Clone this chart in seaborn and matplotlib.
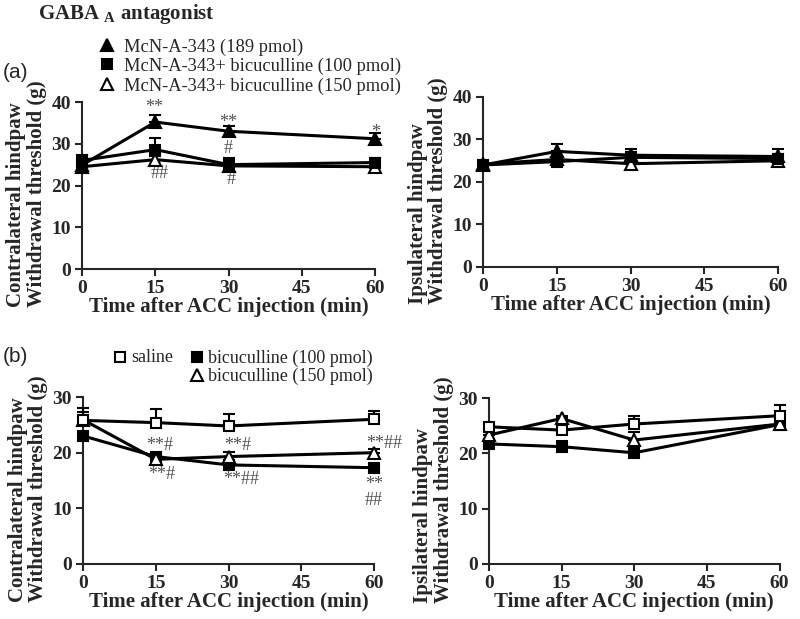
import numpy as np
import matplotlib
matplotlib.use("Agg")
import matplotlib.pyplot as plt
from matplotlib.lines import Line2D
import seaborn as sns

# time points (min after ACC injection)
times = [0, 15, 30, 60]

# (a) McN-A-343 +/- bicuculline, contralateral paw
a_contra_mcn = [24.9, 35.2, 33.0, 31.2]
a_contra_mcn_err = [1.0, 1.8, 1.2, 1.4]
a_contra_bic100 = [26.0, 28.6, 25.0, 25.5]
a_contra_bic100_err = [0.8, 2.8, 1.7, 1.0]
a_contra_bic150 = [24.5, 26.2, 24.7, 24.5]
a_contra_bic150_err = [0.5, 0.8, 0.6, 0.6]

# (a) ipsilateral paw
a_ipsi_mcn = [24.0, 27.2, 26.3, 26.0]
a_ipsi_mcn_err = [0.5, 1.8, 1.5, 1.8]
a_ipsi_bic100 = [24.0, 24.8, 25.8, 25.5]
a_ipsi_bic100_err = [0.4, 0.5, 1.2, 1.0]
a_ipsi_bic150 = [24.2, 25.3, 24.3, 25.0]
a_ipsi_bic150_err = [0.4, 0.6, 0.6, 0.6]

# (b) saline / bicuculline alone, contralateral paw
b_contra_saline = [25.8, 25.4, 24.8, 26.0]
b_contra_saline_err = [1.5, 2.5, 2.2, 1.5]
b_contra_bic100 = [23.0, 19.3, 17.8, 17.3]
b_contra_bic100_err = [0.8, 0.5, 0.5, 0.5]
b_contra_bic150 = [25.9, 18.8, 19.3, 20.0]
b_contra_bic150_err = [2.2, 0.5, 0.8, 0.6]

# (b) ipsilateral paw
b_ipsi_saline = [24.8, 24.2, 25.3, 26.8]
b_ipsi_saline_err = [0.5, 0.5, 1.5, 2.0]
b_ipsi_bic100 = [21.7, 21.2, 20.1, 25.2]
b_ipsi_bic100_err = [0.8, 1.0, 0.5, 0.5]
b_ipsi_bic150 = [23.3, 26.3, 22.4, 25.3]
b_ipsi_bic150_err = [0.6, 0.4, 1.5, 0.5]

legend_a = ["McN-A-343 (189 pmol)", "McN-A-343+ bicuculline (100 pmol)",
            "McN-A-343+ bicuculline (150 pmol)"]
legend_b = ["saline", "bicuculline (100 pmol)", "bicuculline (150 pmol)"]

sns.set_style("ticks")
plt.rcParams['font.family'] = ['Liberation Serif', 'DejaVu Serif']
plt.rcParams['font.weight'] = 'bold'
plt.rcParams['mathtext.fontset'] = 'custom'
plt.rcParams['mathtext.rm'] = 'Liberation Serif'
plt.rcParams['mathtext.bf'] = 'Liberation Serif:bold'

# marker styles
st_tri_full = dict(marker='^', markersize=9, markerfacecolor='black')
st_sq_full = dict(marker='s', markersize=7.5, markerfacecolor='black')
st_tri_open = dict(marker='^', markersize=8.5, markerfacecolor='white')
st_sq_open = dict(marker='s', markersize=7.5, markerfacecolor='white')

ann_color = '#505050'


def draw_series(ax, y, err, style, z):
    ax.errorbar(times, y, yerr=[np.zeros(len(err)), err], fmt='none',
                ecolor='black', elinewidth=1.5, capsize=4, capthick=1.5,
                clip_on=False, zorder=z)
    sns.lineplot(x=times, y=y, ax=ax, color='black', linewidth=2.2,
                 markeredgecolor='black', markeredgewidth=1.5,
                 clip_on=False, zorder=z + 0.5, **style)


def style_axes(ax, ymax, ylabel):
    ax.set_xlim(0, 60)
    ax.set_ylim(0, ymax)
    ax.set_xticks([0, 15, 30, 45, 60])
    ax.set_yticks(range(0, ymax + 1, 10))
    sns.despine(ax=ax)
    for s in ['left', 'bottom']:
        ax.spines[s].set_linewidth(1.5)
    ax.tick_params(direction='out', length=5, width=1.5, labelsize=14, pad=3)
    for lbl in ax.get_xticklabels() + ax.get_yticklabels():
        lbl.set_fontweight('bold')
    ax.set_xlabel("Time after ACC injection (min)", fontsize=15,
                  fontweight='bold', labelpad=0)
    ax.set_ylabel(ylabel, fontsize=15, fontweight='bold', labelpad=3,
                  linespacing=1.05, multialignment='left')
    ax.yaxis.label.set_y(0.45)


fig = plt.figure(figsize=(8, 6.19), dpi=100)
ax_a1 = fig.add_axes([0.1025, 0.5654, 0.3665, 0.2698])
ax_a2 = fig.add_axes([0.604, 0.5687, 0.3685, 0.2746])
ax_b1 = fig.add_axes([0.104, 0.0889, 0.3635, 0.2697])
ax_b2 = fig.add_axes([0.611, 0.0889, 0.3635, 0.2681])

draw_series(ax_a1, a_contra_bic150, a_contra_bic150_err, st_tri_open, 3)
draw_series(ax_a1, a_contra_bic100, a_contra_bic100_err, st_sq_full, 4)
draw_series(ax_a1, a_contra_mcn, a_contra_mcn_err, st_tri_full, 5)
style_axes(ax_a1, 40, "Contralateral hindpaw\nWithdrawal threshold (g)")

draw_series(ax_a2, a_ipsi_bic150, a_ipsi_bic150_err, st_tri_open, 3)
draw_series(ax_a2, a_ipsi_bic100, a_ipsi_bic100_err, st_sq_full, 4)
draw_series(ax_a2, a_ipsi_mcn, a_ipsi_mcn_err, st_tri_full, 5)
style_axes(ax_a2, 40, "Ipsulateral hindpaw\nWithdrawal threshold (g)")

draw_series(ax_b1, b_contra_bic100, b_contra_bic100_err, st_sq_full, 3)
draw_series(ax_b1, b_contra_bic150, b_contra_bic150_err, st_tri_open, 4)
draw_series(ax_b1, b_contra_saline, b_contra_saline_err, st_sq_open, 5)
style_axes(ax_b1, 30, "Contralateral hindpaw\nWithdrawal threshold (g)")

draw_series(ax_b2, b_ipsi_bic100, b_ipsi_bic100_err, st_sq_full, 3)
draw_series(ax_b2, b_ipsi_bic150, b_ipsi_bic150_err, st_tri_open, 4)
draw_series(ax_b2, b_ipsi_saline, b_ipsi_saline_err, st_sq_open, 5)
style_axes(ax_b2, 30, "Ipsilateral hindpaw\nWithdrawal threshold (g)")

# significance marks
ann_kw = dict(ha='center', va='center', fontsize=13, color=ann_color,
              fontweight='normal')
for x, y, s in [(14.8, 38.8, "**"), (30, 35.1, "**"), (60, 32.8, "*"),
                (30, 28.9, "#"), (15.8, 22.8, "##"), (30.6, 21.4, "#")]:
    ax_a1.text(x, y, s, **ann_kw)
for x, y, s in [(15.8, 21.3, "**#"), (16.1, 16.1, "**#"), (31.8, 21.3, "**#"),
                (32.5, 15.1, "**##"), (62.1, 21.7, "**##"),
                (60, 14.2, "**"), (60, 11.4, "##")]:
    ax_b1.text(x, y, s, clip_on=False, **ann_kw)

# title and panel letters
fig.text(38 / 800, 1 - 14 / 619, r"GABA $_{\mathbf{A}}$ antagonist",
         fontsize=15, fontweight='bold', va='center', ha='left')
fig.text(3 / 800, 1 - 73 / 619, "(a)", family='Liberation Sans',
         fontweight='normal', fontsize=15, va='center', ha='left')
fig.text(3 / 800, 1 - 357 / 619, "(b)", family='Liberation Sans',
         fontweight='normal', fontsize=15, va='center', ha='left')

# legend (a)
for (yy, lab, st) in zip([47, 66, 86], legend_a,
                         [st_tri_full, st_sq_full, st_tri_open]):
    fig.add_artist(Line2D([107 / 800], [1 - (yy - 2) / 619],
                          transform=fig.transFigure, color='black',
                          markeredgecolor='black', markeredgewidth=1.5,
                          linestyle='none', **st))
    fig.text(124 / 800, 1 - yy / 619, lab, fontsize=13.3,
             fontweight='normal', va='center', ha='left')

# legend (b)
for (xm, yy, lab, st) in zip([120, 197, 197], [358, 358, 376], legend_b,
                             [st_sq_open, st_sq_full, st_tri_open]):
    fig.add_artist(Line2D([xm / 800], [1 - (yy - 1) / 619],
                          transform=fig.transFigure, color='black',
                          markeredgecolor='black', markeredgewidth=1.5,
                          linestyle='none', **st))
    fig.text((xm + 11) / 800, 1 - yy / 619, lab, fontsize=13,
             fontweight='normal', va='center', ha='left')

fig.savefig("out.png", dpi=100)
